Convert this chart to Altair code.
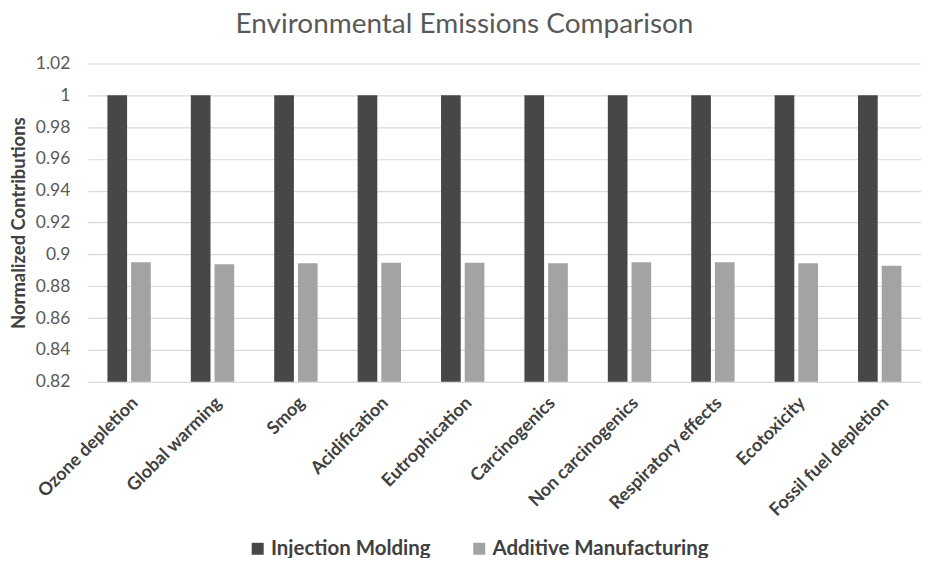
import altair as alt
import pandas as pd

categories = ["Ozone depletion", "Global warming", "Smog", "Acidification",
              "Eutrophication", "Carcinogenics", "Non carcinogenics",
              "Respiratory effects", "Ecotoxicity", "Fossil fuel depletion"]
injection = [1, 1, 1, 1, 1, 1, 1, 1, 1, 1]
additive = [0.8951, 0.8939, 0.8945, 0.8948, 0.8948, 0.8945, 0.8951, 0.8951, 0.8945, 0.8929]
series = ["Injection Molding", "Additive Manufacturing"]
y_ticks = [0.82, 0.84, 0.86, 0.88, 0.9, 0.92, 0.94, 0.96, 0.98, 1.0, 1.02]

rows = []
for c, a, b in zip(categories, injection, additive):
    rows.append({"category": c, "series": series[0], "value": a})
    rows.append({"category": c, "series": series[1], "value": b})
df = pd.DataFrame(rows)

FONT = "Lato"

chart = alt.Chart(df).mark_bar(clip=True).encode(
    x=alt.X("category:N", sort=categories,
            scale=alt.Scale(paddingInner=0.48, paddingOuter=0.235),
            axis=alt.Axis(title=None, labelAngle=-45, labelFontSize=18,
                          labelFontWeight="bold", labelColor="#404040",
                          labelFont=FONT, ticks=False, domain=False,
                          labelPadding=12, labelLimit=300)),
    xOffset=alt.XOffset("series:N", sort=series,
                        scale=alt.Scale(paddingInner=0.17, paddingOuter=0)),
    y=alt.Y("value:Q", scale=alt.Scale(domain=[0.82, 1.02], nice=False, zero=False),
            axis=alt.Axis(title="Normalized Contributions", values=y_ticks,
                          labelExpr="format(datum.value, '~g')",
                          labelFontSize=17.5, labelColor="#595959", labelFont=FONT,
                          titleFontSize=18.5, titleFont=FONT, titleFontWeight="bold",
                          titleColor="#404040", titlePadding=7,
                          ticks=False, domain=False, labelPadding=18,
                          gridColor="#d9d9d9", gridWidth=1.2)),
    color=alt.Color("series:N", sort=series,
                    scale=alt.Scale(domain=series, range=["#474747", "#a3a3a3"]),
                    legend=alt.Legend(title=None, orient="none", direction="horizontal",
                                      legendX=160, legendY=476,
                                      symbolType="square", symbolSize=144,
                                      symbolStrokeWidth=0,
                                      labelFontSize=20.5, labelFontWeight="bold",
                                      labelColor="#404040", labelFont=FONT,
                                      labelLimit=400,
                                      columnPadding=38, labelOffset=3)),
).properties(
    width=835, height=319,
    autosize=alt.AutoSizeParams(type="none"),
    padding={"left": 80, "top": 55, "right": 0, "bottom": 176},
    title=alt.TitleParams("Environmental Emissions Comparison", fontSize=28,
                          font=FONT, fontWeight="normal", color="#595959",
                          offset=16, anchor="middle", dx=-40),
).configure_view(stroke=None)

chart.save("out.html", embed_options={"renderer": "svg", "actions": False})
